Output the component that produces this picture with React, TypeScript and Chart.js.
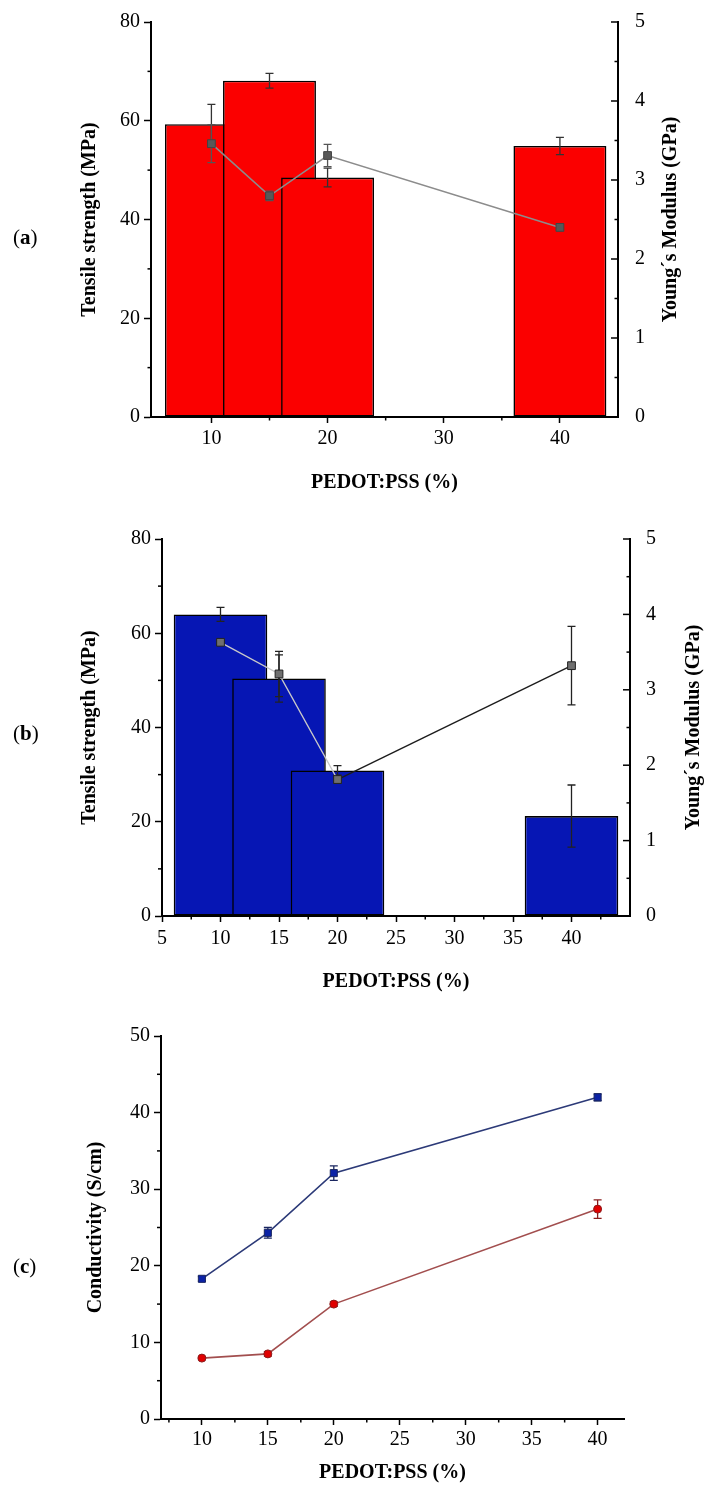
import React, { useEffect, useRef } from 'react';
import { Chart, registerables } from 'chart.js';

Chart.register(...registerables);

const SERIF = '"Liberation Serif", "Times New Roman", serif';

// ---------- Panel (a) ----------
const A_X = [10, 15, 20, 40];
const A_TENSILE = [59.3, 68.1, 48.5, 54.9];
const A_TENSILE_ERR = [4.0, 1.5, 1.9, 1.75];
const A_MODULUS = [3.46, 2.8, 3.31, 2.4];
const A_MODULUS_ERR = [0.24, 0.06, 0.14, 0.04];
const A_X_MAJOR = [10, 20, 30, 40];
const A_X_MINOR = [15, 25, 35];

// ---------- Panel (b) ----------
const B_X = [10, 15, 20, 40];
const B_TENSILE = [64.0, 50.4, 30.9, 21.2];
const B_TENSILE_ERR = [1.5, 5.0, 1.0, 6.6];
const B_MODULUS = [3.63, 3.21, 1.81, 3.32];
const B_MODULUS_ERR = [0.03, 0.3, 0.05, 0.52];
const B_X_MAJOR = [5, 10, 15, 20, 25, 30, 35, 40];
const B_X_MINOR = [7.5, 12.5, 17.5, 22.5, 27.5, 32.5, 37.5, 42.5];

// shared tick values for (a) and (b)
const TS_MAJOR = [0, 20, 40, 60, 80];
const TS_MINOR = [10, 30, 50, 70];
const YM_MAJOR = [0, 1, 2, 3, 4, 5];
const YM_MINOR = [0.5, 1.5, 2.5, 3.5, 4.5];

// ---------- Panel (c) ----------
const C_X = [10, 15, 20, 40];
const C_BLUE = [18.3, 24.3, 32.1, 42.0];
const C_BLUE_ERR = [0.3, 0.7, 0.95, 0.45];
const C_RED = [7.95, 8.5, 15.0, 27.4];
const C_RED_ERR = [0.2, 0.3, 0.3, 1.2];
const C_X_MAJOR = [10, 15, 20, 25, 30, 35, 40];
const C_X_MINOR = [7.5, 12.5, 17.5, 22.5, 27.5, 32.5, 37.5];
const C_Y_MAJOR = [0, 10, 20, 30, 40, 50];
const C_Y_MINOR = [5, 15, 25, 35, 45];

const pts = (xs: number[], ys: number[]) => xs.map((x, i) => ({ x, y: ys[i] }));

const TICK_FONT = { family: SERIF, size: 20 };
const TITLE_FONT = { family: SERIF, size: 20, weight: 'bold' as const };

function drawErrors(chart: any, index: number) {
  const ds: any = chart.data.datasets[index];
  if (!ds.errors) return;
  const meta = chart.getDatasetMeta(index);
  const yScale = chart.scales[meta.yAxisID];
  const ctx = chart.ctx;
  const cap = ds.errorCap ?? 4;
  ctx.save();
  ctx.strokeStyle = ds.errorColor || '#000';
  ctx.lineWidth = ds.errorWidth ?? 1.3;
  meta.data.forEach((el: any, j: number) => {
    const v = ds.data[j].y;
    const e = ds.errors[j];
    const x = el.x;
    const yt = yScale.getPixelForValue(v + e);
    const yb = yScale.getPixelForValue(v - e);
    ctx.beginPath();
    ctx.moveTo(x, yt);
    ctx.lineTo(x, yb);
    ctx.moveTo(x - cap, yt);
    ctx.lineTo(x + cap, yt);
    ctx.moveTo(x - cap, yb);
    ctx.lineTo(x + cap, yb);
    ctx.stroke();
  });
  ctx.restore();
}

const errorBars = {
  id: 'errorBars',
  beforeDatasetDraw(chart: any, args: any) {
    const ds: any = chart.data.datasets[args.index];
    if (ds.type === 'line') drawErrors(chart, args.index);
  },
  afterDatasetDraw(chart: any, args: any) {
    const ds: any = chart.data.datasets[args.index];
    if (ds.type === 'bar') drawErrors(chart, args.index);
  },
};

// extra tick marks: minor ticks on any axis, plus inward ticks on right axes
function tickMarks(spec: { id: string; values: number[]; len: number }[]) {
  return {
    id: 'tickMarks',
    afterDraw(chart: any) {
      const ctx = chart.ctx;
      ctx.save();
      ctx.strokeStyle = '#000';
      ctx.lineWidth = 1.5;
      for (const s of spec) {
        const sc = chart.scales[s.id];
        for (const v of s.values) {
          const p = sc.getPixelForValue(v);
          ctx.beginPath();
          if (sc.position === 'bottom') {
            ctx.moveTo(p, sc.top);
            ctx.lineTo(p, sc.top + s.len);
          } else if (sc.position === 'left') {
            ctx.moveTo(sc.right, p);
            ctx.lineTo(sc.right - s.len, p);
          } else {
            ctx.moveTo(sc.left, p);
            ctx.lineTo(sc.left - s.len, p);
          }
          ctx.stroke();
        }
      }
      ctx.restore();
    },
  };
}

function sideTitle(scaleId: string, text: string, offset: number) {
  return {
    id: 'sideTitle',
    afterDraw(chart: any) {
      const sc = chart.scales[scaleId];
      const ctx = chart.ctx;
      ctx.save();
      ctx.translate(sc.right - offset, (sc.top + sc.bottom) / 2);
      ctx.rotate(-Math.PI / 2);
      ctx.font = `bold 20px ${SERIF}`;
      ctx.fillStyle = '#000';
      ctx.textAlign = 'center';
      ctx.textBaseline = 'middle';
      ctx.fillText(text, 0, 0);
      ctx.restore();
    },
  };
}

type AxisOpts = {
  position: 'left' | 'right' | 'bottom';
  min: number;
  max: number;
  major: number[];
  size: number;
  pad: number;
  tickLen?: number;
  drawTicks?: boolean;
  title?: string;
  titlePad?: any;
};

function axis(o: AxisOpts) {
  const horizontal = o.position === 'bottom';
  return {
    type: 'linear',
    position: o.position,
    min: o.min,
    max: o.max,
    offset: false,
    afterBuildTicks: (s: any) => {
      s.ticks = o.major.map((v) => ({ value: v }));
    },
    afterFit: (s: any) => {
      if (horizontal) s.height = o.size;
      else s.width = o.size;
    },
    ticks: {
      font: TICK_FONT,
      color: '#000',
      padding: o.pad,
      autoSkip: false,
      maxRotation: 0,
      minRotation: 0,
      callback: (v: any) => String(v),
    },
    grid: {
      display: o.drawTicks !== false,
      drawOnChartArea: false,
      drawTicks: true,
      tickLength: o.tickLen ?? 7,
      tickWidth: 1.5,
      tickColor: '#000',
      offset: false,
    },
    border: { display: true, color: '#000', width: 2 },
    title: o.title
      ? { display: true, text: o.title, font: TITLE_FONT, color: '#000', padding: o.titlePad }
      : { display: false },
  };
}

const X_TITLE = 'PEDOT:PSS (%)';

function buildA(): any {
  return {
    type: 'bar',
    data: {
      datasets: [
        {
          type: 'line',
          label: 'Young´s Modulus',
          data: pts(A_X, A_MODULUS),
          xAxisID: 'x',
          yAxisID: 'y1',
          borderColor: '#8c8c8c',
          borderWidth: 1.6,
          pointStyle: 'rect',
          pointRadius: 5.5,
          pointBackgroundColor: '#585858',
          pointBorderColor: '#444',
          pointBorderWidth: 1,
          tension: 0,
          fill: false,
          order: 0,
          errors: A_MODULUS_ERR,
          errorColor: '#555',
        },
        {
          type: 'bar',
          label: 'Tensile strength',
          data: pts(A_X, A_TENSILE),
          xAxisID: 'x',
          yAxisID: 'y',
          backgroundColor: '#fb0000',
          borderColor: '#000',
          borderWidth: 1.6,
          borderSkipped: false,
          barPercentage: 1,
          categoryPercentage: 1.6,
          order: 1,
          errors: A_TENSILE_ERR,
          errorColor: '#333',
        },
      ],
    },
    options: {
      responsive: false,
      animation: false,
      devicePixelRatio: 1,
      layout: { padding: { top: 21, left: 0, right: 0, bottom: 0 } },
      plugins: { legend: { display: false }, tooltip: { enabled: false } },
      scales: {
        x: axis({ position: 'bottom', min: 4.8, max: 45, major: A_X_MAJOR, size: 83, pad: 4, tickLen: 6, title: X_TITLE, titlePad: { top: 0, bottom: 5 } }),
        y: axis({ position: 'left', min: 0, max: 80, major: TS_MAJOR, size: 151, pad: 4, title: 'Tensile strength (MPa)', titlePad: { top: 78, bottom: 0 } }),
        y1: axis({ position: 'right', min: 0, max: 5, major: YM_MAJOR, size: 86, pad: 10, drawTicks: false }),
      },
    },
    plugins: [
      errorBars,
      tickMarks([
        { id: 'x', values: A_X_MINOR, len: 3.5 },
        { id: 'y', values: TS_MINOR, len: 3.5 },
        { id: 'y1', values: YM_MAJOR, len: 7 },
        { id: 'y1', values: YM_MINOR, len: 3.5 },
      ]),
      sideTitle('y1', 'Young´s Modulus (GPa)', 33),
    ],
  };
}

function buildB(): any {
  return {
    type: 'bar',
    data: {
      datasets: [
        {
          type: 'line',
          label: 'Young´s Modulus',
          data: pts(B_X, B_MODULUS),
          xAxisID: 'x',
          yAxisID: 'y1',
          borderColor: '#222',
          segment: {
            borderColor: (c: any) => (c.p0DataIndex < 2 ? '#c9c9c9' : '#1c1c1c'),
          },
          borderWidth: 1.4,
          pointStyle: 'rect',
          pointRadius: 5.5,
          pointBackgroundColor: '#6f6f6f',
          pointBorderColor: '#222',
          pointBorderWidth: 1,
          tension: 0,
          fill: false,
          order: 0,
          errors: B_MODULUS_ERR,
          errorColor: '#222',
        },
        {
          type: 'bar',
          label: 'Tensile strength',
          data: pts(B_X, B_TENSILE),
          xAxisID: 'x',
          yAxisID: 'y',
          backgroundColor: '#0616b4',
          borderColor: '#000',
          borderWidth: 1.6,
          borderSkipped: false,
          barPercentage: 1,
          categoryPercentage: 1.6,
          order: 1,
          errors: B_TENSILE_ERR,
          errorColor: '#222',
        },
      ],
    },
    options: {
      responsive: false,
      animation: false,
      devicePixelRatio: 1,
      layout: { padding: { top: 39, left: 0, right: 0, bottom: 0 } },
      plugins: { legend: { display: false }, tooltip: { enabled: false } },
      scales: {
        x: axis({ position: 'bottom', min: 5, max: 45, major: B_X_MAJOR, size: 84, pad: 5, tickLen: 6, title: X_TITLE, titlePad: { top: 0, bottom: 6 } }),
        y: axis({ position: 'left', min: 0, max: 80, major: TS_MAJOR, size: 162, pad: 4, title: 'Tensile strength (MPa)', titlePad: { top: 78, bottom: 0 } }),
        y1: axis({ position: 'right', min: 0, max: 5, major: YM_MAJOR, size: 74, pad: 9, drawTicks: false }),
      },
    },
    plugins: [
      errorBars,
      tickMarks([
        { id: 'x', values: B_X_MINOR, len: 3.5 },
        { id: 'y', values: TS_MINOR, len: 4 },
        { id: 'y1', values: YM_MAJOR, len: 7 },
        { id: 'y1', values: YM_MINOR, len: 3.5 },
      ]),
      sideTitle('y1', 'Young´s Modulus (GPa)', 10),
    ],
  };
}

function buildC(): any {
  return {
    type: 'line',
    data: {
      datasets: [
        {
          label: 'Series 1',
          data: pts(C_X, C_BLUE),
          borderColor: '#2c3a78',
          borderWidth: 1.6,
          pointStyle: 'rect',
          pointRadius: 5,
          pointBackgroundColor: '#0b22a6',
          pointBorderColor: '#1a2660',
          pointBorderWidth: 1,
          tension: 0,
          fill: false,
          type: 'line',
          errors: C_BLUE_ERR,
          errorColor: '#1a2660',
        },
        {
          label: 'Series 2',
          data: pts(C_X, C_RED),
          borderColor: '#a24e4e',
          borderWidth: 1.6,
          pointStyle: 'circle',
          pointRadius: 4,
          pointBackgroundColor: '#e00000',
          pointBorderColor: '#8a1c1c',
          pointBorderWidth: 1,
          tension: 0,
          fill: false,
          type: 'line',
          errors: C_RED_ERR,
          errorColor: '#8a1c1c',
        },
      ],
    },
    options: {
      responsive: false,
      animation: false,
      devicePixelRatio: 1,
      layout: { padding: { top: 36, left: 0, right: 80, bottom: 0 } },
      plugins: { legend: { display: false }, tooltip: { enabled: false } },
      scales: {
        x: axis({ position: 'bottom', min: 6.9, max: 42, major: C_X_MAJOR, size: 69, pad: 3, tickLen: 6, title: X_TITLE, titlePad: { top: 0, bottom: 3 } }),
        y: axis({ position: 'left', min: 0, max: 50, major: C_Y_MAJOR, size: 161, pad: 4, title: 'Conductivity (S/cm)', titlePad: { top: 84, bottom: 0 } }),
      },
    },
    plugins: [
      errorBars,
      tickMarks([
        { id: 'x', values: C_X_MINOR, len: 3.5 },
        { id: 'y', values: C_Y_MINOR, len: 4 },
      ]),
    ],
  };
}

function ChartPanel({ top, height, build }: { top: number; height: number; build: () => any }) {
  const ref = useRef<HTMLCanvasElement>(null);
  useEffect(() => {
    if (!ref.current) return;
    const chart = new Chart(ref.current, build());
    return () => chart.destroy();
  }, [build]);
  return (
    <canvas
      ref={ref}
      width={704}
      height={height}
      style={{ position: 'absolute', left: 0, top, width: 704, height, display: 'block' }}
    />
  );
}

const labelStyle = (top: number): React.CSSProperties => ({
  position: 'absolute',
  left: 13,
  top,
  fontFamily: SERIF,
  fontSize: 21,
  lineHeight: '21px',
  color: '#000',
});

export default function App() {
  return (
    <div style={{ position: 'absolute', left: 0, top: 0, width: 704, height: 1488, background: '#fff', overflow: 'hidden' }}>
      <ChartPanel top={0} height={500} build={buildA} />
      <ChartPanel top={500} height={500} build={buildB} />
      <ChartPanel top={1000} height={488} build={buildC} />
      <span style={labelStyle(227)}>(<b>a</b>)</span>
      <span style={labelStyle(723)}>(<b>b</b>)</span>
      <span style={labelStyle(1256)}>(<b>c</b>)</span>
    </div>
  );
}
